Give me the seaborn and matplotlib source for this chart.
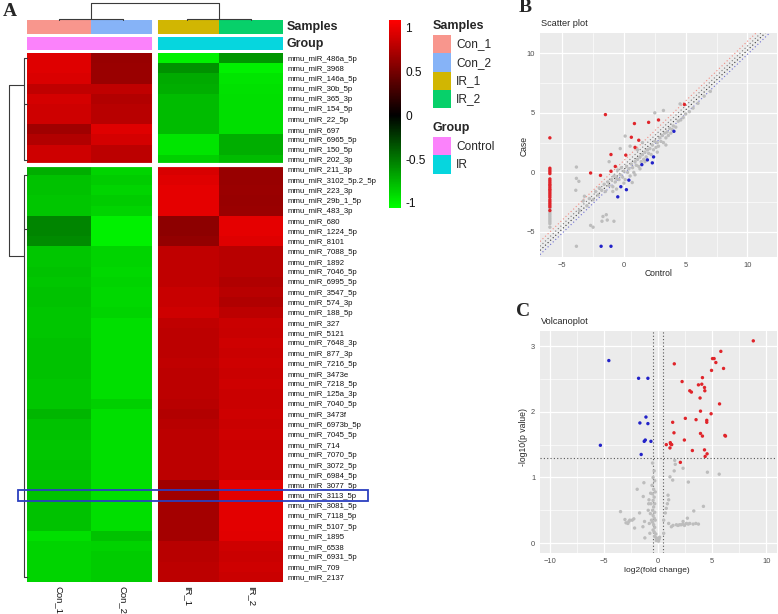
import numpy as np
import pandas as pd
import seaborn as sns
import matplotlib
matplotlib.use("Agg")
import matplotlib.pyplot as plt
from matplotlib.colors import LinearSegmentedColormap, ListedColormap
from matplotlib.patches import Rectangle
from matplotlib.ticker import MultipleLocator, FixedLocator

sns.set_style("white")
plt.rcParams['font.family'] = ['Liberation Sans', 'DejaVu Sans']

W, H = 778, 614

# ---------------- heatmap data ----------------
samples = ["Con_1", "Con_2", "IR_1", "IR_2"]
groups = ["Control", "Control", "IR", "IR"]
sample_colors = ["#F8968D", "#86B3F7", "#D1B602", "#07D06A"]
group_colors = ["#FB82FB", "#06D6DE"]

mir_top = ["mmu_miR_486a_5p", "mmu_miR_3968", "mmu_miR_146a_5p", "mmu_miR_30b_5p",
           "mmu_miR_365_3p", "mmu_miR_154_5p", "mmu_miR_22_5p", "mmu_miR_697",
           "mmu_miR_6965_5p", "mmu_miR_150_5p", "mmu_miR_202_3p"]
mir_bottom = ["mmu_miR_211_3p", "mmu_miR_3102_5p.2_5p", "mmu_miR_223_3p", "mmu_miR_29b_1_5p",
              "mmu_miR_483_3p", "mmu_miR_680", "mmu_miR_1224_5p", "mmu_miR_8101",
              "mmu_miR_7088_5p", "mmu_miR_1892", "mmu_miR_7046_5p", "mmu_miR_6995_5p",
              "mmu_miR_3547_5p", "mmu_miR_574_3p", "mmu_miR_188_5p", "mmu_miR_327",
              "mmu_miR_5121", "mmu_miR_7648_3p", "mmu_miR_877_3p", "mmu_miR_7216_5p",
              "mmu_miR_3473e", "mmu_miR_7218_5p", "mmu_miR_125a_3p", "mmu_miR_7040_5p",
              "mmu_miR_3473f", "mmu_miR_6973b_5p", "mmu_miR_7045_5p", "mmu_miR_714",
              "mmu_miR_7070_5p", "mmu_miR_3072_5p", "mmu_miR_6984_5p", "mmu_miR_3077_5p",
              "mmu_miR_3113_5p", "mmu_miR_3081_5p", "mmu_miR_7118_5p", "mmu_miR_5107_5p",
              "mmu_miR_1895", "mmu_miR_6538", "mmu_miR_6931_5p", "mmu_miR_709", "mmu_miR_2137"]

con1_top = [0.95, 0.95, 0.93, 0.82, 0.90, 0.88, 0.88, 0.68, 0.76, 0.88, 0.88]
con2_top = [0.65, 0.66, 0.66, 0.82, 0.76, 0.78, 0.78, 0.95, 0.90, 0.80, 0.80]
ir1_top = [-1.00, -0.60, -0.70, -0.72, -0.78, -0.78, -0.78, -0.78, -0.95, -0.95, -0.86]
ir2_top = [-0.62, -1.00, -0.95, -0.93, -0.92, -0.92, -0.92, -0.92, -0.72, -0.72, -0.78]

con1_bottom = [-0.72, -0.80, -0.80, -0.82, -0.82, -0.55, -0.55, -0.58,
               -0.82, -0.82, -0.80, -0.82, -0.80, -0.80, -0.82,
               -0.82, -0.82, -0.80, -0.80, -0.80, -0.80, -0.82, -0.82, -0.82,
               -0.75, -0.80, -0.80, -0.82, -0.82, -0.80, -0.82,
               -0.80, -0.80, -0.80, -0.80, -0.80, -0.92, -0.88, -0.88, -0.88, -0.88]
con2_bottom = [-0.88, -0.85, -0.88, -0.85, -0.88, -1.00, -1.00, -1.00,
               -0.88, -0.88, -0.90, -0.88, -0.90, -0.90, -0.88,
               -0.92, -0.92, -0.92, -0.92, -0.92, -0.92, -0.92, -0.92, -0.86,
               -0.92, -0.92, -0.92, -0.92, -0.92, -0.92, -0.92,
               -0.92, -0.92, -0.92, -0.92, -0.92, -0.80, -0.87, -0.85, -0.85, -0.85]
ir1_bottom = [0.92, 0.95, 0.98, 0.98, 0.98, 0.60, 0.60, 0.62,
              0.82, 0.82, 0.82, 0.82, 0.85, 0.85, 0.88,
              0.82, 0.80, 0.80, 0.80, 0.82, 0.80, 0.80, 0.80, 0.78,
              0.76, 0.78, 0.80, 0.80, 0.80, 0.80, 0.80,
              0.68, 0.68, 0.70, 0.70, 0.70, 0.70, 0.78, 0.78, 0.80, 0.80]
ir2_bottom = [0.65, 0.65, 0.66, 0.65, 0.66, 0.98, 0.98, 0.95,
              0.78, 0.78, 0.78, 0.75, 0.78, 0.75, 0.80,
              0.86, 0.85, 0.88, 0.86, 0.88, 0.86, 0.88, 0.86, 0.86,
              0.88, 0.86, 0.88, 0.86, 0.88, 0.88, 0.86,
              0.97, 0.97, 0.97, 0.97, 0.97, 0.96, 0.88, 0.86, 0.88, 0.86]
highlight = "mmu_miR_3113_5p"

# ---------------- scatter (B) data ----------------
sc_red_control = [4.9, -1.5, 2.8, 2.0, 0.85, 0.6, 1.2, 0.9, 0.15, -1.05, -0.7, -2.7, -1.9, -1.05,
                  -6.0, -6.0, -6.0, -6.0, -6.0, -6.0, -6.0, -6.0, -6.0, -6.0, -6.0, -6.0,
                  -6.0, -6.0, -6.0, -6.0, -6.0, -6.0, -6.0, -6.0, -6.0, -6.0, -6.0]
sc_red_case = [5.7, 4.85, 4.4, 4.2, 4.1, 2.95, 2.7, 2.1, 1.45, 1.5, 0.5, -0.05, -0.25, 0.1,
               2.9, 0.35, 0.2, 0.05, -0.1, -0.55, -0.7, -0.85, -1.0, -1.1, -1.25, -1.4,
               -1.5, -1.65, -1.8, -1.95, -2.1, -2.3, -2.45, -2.6, -2.75, -2.9, -3.2]
sc_blue_control = [4.05, 2.4, 1.9, 2.3, 1.45, 0.4, -0.25, 0.2, -0.5, -1.85, -1.05]
sc_blue_case = [3.45, 1.3, 1.05, 0.8, 0.65, -0.65, -1.2, -1.45, -2.05, -6.2, -6.2]
sc_grey_control = [-6.0, -6.0, -6.0, -6.0, -6.0, -6.0, -6.0, -6.0, -6.0, -6.0,
                   -3.6, -3.3, -3.0, -2.8, -2.5, -2.3, -2.1, -2.0, -1.8, -1.6, -1.5, -1.3, -1.2,
                   -1.0, -0.9, -0.8, -0.7, -0.6, -0.5, -0.4, -0.3, -0.2, -0.1, 0.0, 0.1, 0.2,
                   0.3, 0.4, 0.5, 0.6, 0.7, 0.8, 0.9, 1.0, 1.1, 1.2, 1.3, 1.4, 1.5, 1.6, 1.7,
                   1.8, 1.9, 2.0, 2.1, 2.2, 2.3, 2.4, 2.5, 2.6, 2.7, 2.8, 2.9, 3.0, 3.1, 3.2,
                   3.3, 3.4, 3.5, 3.6, 3.7, 3.8, 3.9, 4.0, 4.2, 4.4, 4.6, 4.8, 5.0, 5.3, 5.6,
                   6.0, 6.5, 7.0, 3.2, 2.5, 4.55, 0.1, -0.3, 0.5, 1.5, -1.2, -3.85, -3.85,
                   -3.65, -3.9, -3.2, -2.7, -2.5, -1.7, -1.43, -1.35, -1.78, -0.81, -3.85,
                   0.67, 1.3, 0.9, -0.6, 1.7, 2.7, 3.4, 0.0, -0.9, 1.1]
sc_grey_case = [-3.0, -3.2, -3.4, -3.55, -3.7, -3.85, -4.0, -4.15, -4.3, -4.6,
                -3.2, -2.4, -2.8, -2.2, -2.3, -1.6, -1.9, -1.3, -1.5, -1.0, -1.6, -0.8, -1.1,
                -0.6, -1.2, -0.3, -0.8, -0.5, 0.2, -0.6, -0.2, 0.4, -0.4, 0.1, -0.6, 0.5,
                0.0, 0.3, -0.3, 0.7, 0.4, 0.0, 0.9, 0.6, 1.1, 0.5, 1.3, 0.9, 1.5, 1.1, 1.7,
                1.3, 1.9, 1.6, 2.0, 1.5, 2.3, 1.9, 2.6, 2.1, 2.5, 2.2, 2.9, 2.6, 3.1, 2.5,
                3.3, 2.9, 3.4, 3.1, 3.7, 3.3, 3.6, 3.9, 3.8, 4.3, 4.4, 4.6, 4.9, 5.1, 5.4,
                5.8, 6.4, 6.8, 5.2, 5.0, 5.75, 3.05, 2.0, 2.2, 2.5, 0.9, 0.45, -0.5,
                -0.75, -1.5, -2.0, -4.45, -4.6, -3.7, -3.55, -4.0, -4.1, -4.1, -6.2,
                -0.85, 0.3, -0.2, -1.4, 0.9, 1.7, 2.3, -0.9, -1.6, 1.9]

# ---------------- volcano (C) data ----------------
vo_red_fc = [8.81, 5.81, 5.04, 5.19, 5.35, 6.06, 4.95, 1.51, 4.11, 2.23, 3.74, 4.05, 4.30, 4.33,
             2.94, 3.09, 3.89, 5.69, 3.93, 4.91, 2.53, 3.52, 4.51, 4.51, 1.36, 1.48, 3.93, 4.11,
             6.18, 6.24, 0.77, 1.14, 1.17, 1.27, 1.11, 2.44, 3.18, 4.30, 4.54, 4.36, 2.07]
vo_red_p = [3.08, 2.92, 2.81, 2.81, 2.75, 2.66, 2.63, 2.73, 2.52, 2.46, 2.41, 2.42, 2.37, 2.32,
            2.32, 2.30, 2.21, 2.12, 2.01, 1.97, 1.90, 1.88, 1.87, 1.84, 1.84, 1.68, 1.67, 1.63,
            1.64, 1.63, 1.50, 1.53, 1.51, 1.50, 1.45, 1.57, 1.41, 1.42, 1.36, 1.32, 1.23]
vo_blue_fc = [-4.54, -1.79, -0.93, -1.11, -1.67, -0.93, -1.17, -1.27, -0.65, -5.32, -1.55]
vo_blue_p = [2.78, 2.51, 2.51, 1.92, 1.83, 1.82, 1.57, 1.55, 1.55, 1.49, 1.35]
vo_grey_fc = [-3.46, 5.66, 4.57, 2.81, 1.11, 1.36, 2.32, 1.55, 1.60, 1.50, -1.92, -1.30, -1.36,
              -0.83, -0.86, -0.68, -1.21, -2.38, -2.69, -2.23, -2.60, -2.78, -2.16, -1.70,
              -1.24, -1.39, -0.50, -0.35, -0.45, -0.30, -0.55, -0.40, -0.25, -0.50, -0.35,
              -0.45, -0.30, -0.40, -0.50, -0.30, -0.45, -0.35, -0.25, -0.50, -0.40, -0.30,
              -0.45, -0.35, -0.20, -0.30, -0.15, -0.10, 0.05, 0.10, -0.60, -0.65, -0.70,
              -0.80, -0.75, -0.90, 0.93, 0.99, 0.87, 0.77, 0.68, 0.53, 0.99, 1.24, 1.39,
              1.70, 2.00, 2.32, 2.63, 2.94, 3.25, 3.74, 2.32, 3.31, 4.20, 2.72, 0.53, 0.15,
              -0.15, 0.00, 1.85, 2.15, 2.45, 2.80, 3.50, -3.05, -2.95]
vo_grey_p = [0.48, 1.05, 1.08, 0.93, 1.01, 0.96, 1.14, 1.26, 1.20, 1.10, 0.82, 0.92, 0.71,
             0.66, 0.60, 0.76, 0.08, 0.35, 0.33, 0.37, 0.35, 0.30, 0.23, 0.46,
             0.33, 0.25, 1.22, 1.10, 1.00, 0.95, 0.88, 0.82, 0.78, 0.75, 0.70,
             0.65, 0.60, 0.55, 0.50, 0.47, 0.42, 0.38, 0.35, 0.32, 0.28, 0.24,
             0.20, 0.17, 0.14, 0.10, 0.08, 0.05, 0.03, 0.06, 0.35, 0.60, 0.45,
             0.30, 0.15, 0.50, 0.73, 0.66, 0.60, 0.53, 0.46, 0.35, 0.30, 0.25, 0.27,
             0.28, 0.28, 0.29, 0.30, 0.30, 0.29, 0.29, 0.33, 0.49, 0.56, 0.38, 0.15, 0.09,
             0.04, 0.06, 0.27, 0.28, 0.27, 0.29, 0.30, 0.36, 0.31]

# ---------------- figure ----------------
fig = plt.figure(figsize=(W / 100, H / 100), dpi=100)


def axes_px(x0, y0, x1, y1, **kw):
    return fig.add_axes([x0 / W, 1 - y1 / H, (x1 - x0) / W, (y1 - y0) / H], **kw)


HX0, HX1, HY0, HY1 = 27, 283, 53, 582
mirnas = mir_top + mir_bottom
n_rows = len(mirnas)
mat = pd.DataFrame({"Con_1": con1_top + con1_bottom, "Con_2": con2_top + con2_bottom,
                    "IR_1": ir1_top + ir1_bottom, "IR_2": ir2_top + ir2_bottom}, index=mirnas)[samples]

vmin, vmax = -1.06, 1.09
p0 = (0 - vmin) / (vmax - vmin)
cmap = LinearSegmentedColormap.from_list("gbr", [(0, "#00FF00"), (p0, "#000000"), (1, "#FF0000")])

ax_h = axes_px(HX0, HY0, HX1, HY1)
ax_cb = axes_px(389, 20, 401, 208)
sns.heatmap(mat, ax=ax_h, cmap=cmap, vmin=vmin, vmax=vmax, cbar_ax=ax_cb,
            xticklabels=samples, yticklabels=mirnas)
ax_h.axvline(2, color="white", lw=4.3)
ax_h.axhline(len(mir_top), color="white", lw=3.0)
ax_h.yaxis.tick_right()
ax_h.tick_params(axis="y", length=0, pad=3, labelsize=5.6, labelcolor="#111111", labelrotation=0)
ax_h.tick_params(axis="x", length=0, pad=3, labelsize=6.8, labelcolor="#111111", labelrotation=270)
for t in ax_h.get_xticklabels():
    t.set_va("top")
ax_h.set_xlabel("")
ax_h.set_ylabel("")

cb = ax_h.collections[0].colorbar
cb.outline.set_visible(False)
cb.set_ticks([-1, -0.5, 0, 0.5, 1])
cb.set_ticklabels(["-1", "-0.5", "0", "0.5", "1"])
ax_cb.tick_params(length=0, pad=3, labelsize=8.6, labelcolor="#111111")

# annotation bars
ax_s = axes_px(HX0, 20, HX1, 34)
sns.heatmap(pd.DataFrame([list(range(len(samples)))], columns=samples), ax=ax_s,
            cmap=ListedColormap(sample_colors), cbar=False, xticklabels=False, yticklabels=False)
ax_s.axvline(2, color="white", lw=4.3)
ax_g = axes_px(HX0, 37, HX1, 50)
gcodes = [sorted(set(groups)).index(g) for g in groups]
sns.heatmap(pd.DataFrame([gcodes], columns=samples), ax=ax_g,
            cmap=ListedColormap(group_colors), cbar=False, xticklabels=False, yticklabels=False)
ax_g.axvline(2, color="white", lw=4.3)

# overlay axes in pixel coordinates
ov = axes_px(0, 0, W, H)
ov.set_xlim(0, W)
ov.set_ylim(H, 0)
ov.axis("off")
ov.patch.set_alpha(0)

ov.text(287, 27, "Samples", fontsize=9, fontweight="bold", va="center", ha="left")
ov.text(287, 44, "Group", fontsize=9, fontweight="bold", va="center", ha="left")

colw = (HX1 - HX0) / 4
rowh = (HY1 - HY0) / n_rows


def cx(i):
    return HX0 + (i + 0.5) * colw


def ry(i):
    return HY0 + (i + 0.5) * rowh


lk = dict(color="#3a3a3a", lw=0.8)
# column dendrogram
for a, b in [(0, 1), (2, 3)]:
    ov.plot([cx(a), cx(a), cx(b), cx(b)], [20, 18.5, 18.5, 20], **lk)
ov.plot([(cx(0) + cx(1)) / 2, (cx(0) + cx(1)) / 2, (cx(2) + cx(3)) / 2, (cx(2) + cx(3)) / 2],
        [18.5, 3, 3, 18.5], **lk)
# row dendrogram
ov.plot([24, 9, 9, 24], [ry(2.6), ry(2.6), ry(19.5), ry(19.5)], **lk)
ov.plot([27, 24, 24, 27], [ry(0), ry(0), ry(10), ry(10)], **lk)
ov.plot([27, 24, 24, 27], [ry(11.5), ry(11.5), ry(51), ry(51)], **lk)
ov.plot([24, 27], [ry(16.8), ry(16.8)], **lk)
ov.plot([24, 27], [ry(4.5), ry(4.5)], **lk)

# highlight box
hi = mirnas.index(highlight)
ov.add_patch(Rectangle((18, HY0 + hi * rowh - 0.3), 368 - 18, rowh + 0.6,
                       fill=False, edgecolor="#2B3FBF", lw=1.3, zorder=5))

# legend
ov.text(433, 26, "Samples", fontsize=9, fontweight="bold", va="center", ha="left")
for i, (lab, c) in enumerate(zip(samples, sample_colors)):
    y0 = 35 + i * 18.3
    ov.add_patch(Rectangle((433, y0), 18, 18.3, color=c, lw=0))
    ov.text(456, y0 + 9.5, lab, fontsize=8.6, va="center", ha="left")
ov.text(433, 128, "Group", fontsize=9, fontweight="bold", va="center", ha="left")
for i, (lab, c) in enumerate(zip(sorted(set(groups)), group_colors)):
    y0 = 137 + i * 18.3
    ov.add_patch(Rectangle((433, y0), 18, 18.3, color=c, lw=0))
    ov.text(456, y0 + 9.5, lab, fontsize=8.6, va="center", ha="left")

# panel letters
for lab, x, y in [("A", 3, 11), ("B", 519, 7), ("C", 516, 312)]:
    ov.text(x, y, lab, fontsize=14, fontweight="bold", family="Liberation Serif",
            va="center", ha="left")


# ---------------- ggplot-like panels ----------------
def gg_style(ax, major_x, major_y, minor_step_x, minor_step_y):
    ax.set_facecolor("#EBEBEB")
    for s in ax.spines.values():
        s.set_visible(False)
    ax.xaxis.set_major_locator(FixedLocator(major_x))
    ax.yaxis.set_major_locator(FixedLocator(major_y))
    ax.xaxis.set_minor_locator(MultipleLocator(minor_step_x))
    ax.yaxis.set_minor_locator(MultipleLocator(minor_step_y))
    ax.grid(which="major", color="white", lw=0.9)
    ax.grid(which="minor", color="white", lw=0.45)
    ax.set_axisbelow(True)
    ax.tick_params(which="major", length=2.2, width=0.6, color="#333333",
                   labelsize=5.4, labelcolor="#4D4D4D", pad=1.2)
    ax.tick_params(which="minor", length=0)
    ax.set_xlabel("")
    ax.set_ylabel("")


pal = {"grey": "#BDBDBD", "up": "#E0242A", "down": "#2222C8"}

# B scatter
df_sc = pd.DataFrame({
    "Control": sc_grey_control + sc_red_control + sc_blue_control,
    "Case": sc_grey_case + sc_red_case + sc_blue_case,
    "type": ["grey"] * len(sc_grey_control) + ["up"] * len(sc_red_control) + ["down"] * len(sc_blue_control),
})
ax_b = axes_px(540, 33, 777, 257)
sns.scatterplot(data=df_sc, x="Control", y="Case", hue="type", palette=pal, ax=ax_b,
                s=6, linewidth=0, legend=False, zorder=3)
for c, col in [(1.0, "#F08A80"), (0.6, "#777777"), (0.25, "#333333"), (-0.1, "#6A6AD0")]:
    ax_b.axline((0, c), slope=1, color=col, lw=0.8, ls=(0, (1, 2.2)), zorder=2)
ax_b.set_xlim(-6.8, 12.4)
ax_b.set_ylim(-7.1, 11.7)
gg_style(ax_b, [-5, 0, 5, 10], [-5, 0, 5, 10], 2.5, 2.5)
ov.text(541, 24, "Scatter plot", fontsize=6.6, va="center", ha="left")
ov.text(659, 274, "Control", fontsize=6.2, va="center", ha="center")
ov.text(524, 146, "Case", fontsize=6.2, va="center", ha="center", rotation=90)

# C volcano
df_vo = pd.DataFrame({
    "fc": vo_grey_fc + vo_red_fc + vo_blue_fc,
    "p": vo_grey_p + vo_red_p + vo_blue_p,
    "type": ["grey"] * len(vo_grey_fc) + ["up"] * len(vo_red_fc) + ["down"] * len(vo_blue_fc),
})
ax_c = axes_px(540, 331, 777, 553)
sns.scatterplot(data=df_vo, x="fc", y="p", hue="type", palette=pal, ax=ax_c,
                s=6, linewidth=0, legend=False, zorder=3)
for v in (-0.5, 0.5):
    ax_c.axvline(v, color="#555555", lw=0.8, ls=(0, (1, 2)), zorder=2)
ax_c.axhline(-np.log10(0.05), color="#555555", lw=0.8, ls=(0, (1, 2)), zorder=2)
ax_c.set_xlim(-10.9, 11.0)
ax_c.set_ylim(-0.15, 3.23)
gg_style(ax_c, [-10, -5, 0, 5, 10], [0, 1, 2, 3], 2.5, 0.5)
ov.text(541, 322, "Volcanoplot", fontsize=6.6, va="center", ha="left")
ov.text(657, 571, "log2(fold change)", fontsize=6.0, va="center", ha="center")
ov.text(524, 437, "-log10(p value)", fontsize=6.2, va="center", ha="center", rotation=90)

fig.savefig("out.png", dpi=100)
